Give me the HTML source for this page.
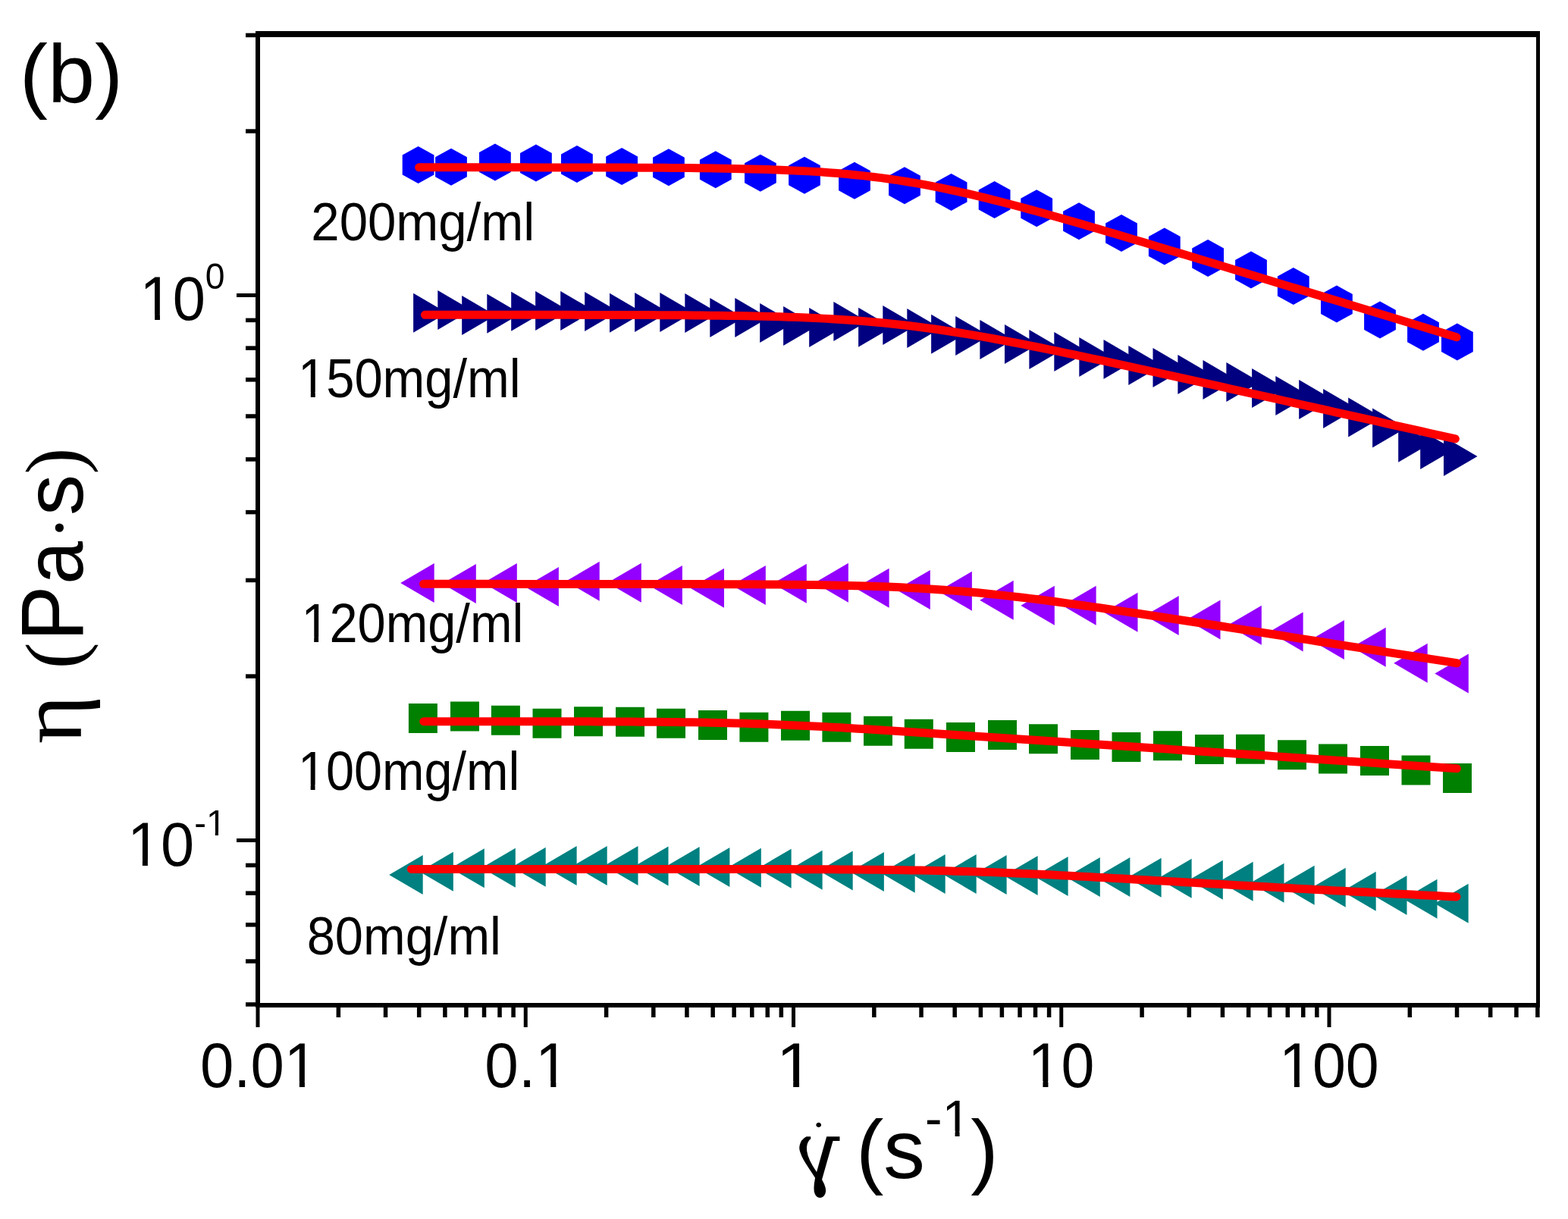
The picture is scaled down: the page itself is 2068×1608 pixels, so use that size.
<!DOCTYPE html>
<html><head><meta charset="utf-8"><title>Viscosity vs shear rate</title>
<style>html,body{margin:0;padding:0;background:#fff;}body{width:2068px;height:1608px;overflow:hidden;}svg{display:block;}</style>
</head><body>
<svg width="2068" height="1608" viewBox="0 0 2068 1608">
<rect width="2068" height="1608" fill="#fff"/>
<defs><clipPath id="k_xt0" clipPathUnits="userSpaceOnUse"><path clip-rule="evenodd" d="M-5000,-5000H9000V9000H-5000ZM376.94,1426.22H393.46V1437.00H376.94ZM400.53,1426.22H416.43V1437.00H400.53Z"/></clipPath><clipPath id="k_xt1" clipPathUnits="userSpaceOnUse"><path clip-rule="evenodd" d="M-5000,-5000H9000V9000H-5000ZM707.95,1426.22H724.47V1437.00H707.95ZM731.54,1426.22H747.44V1437.00H731.54Z"/></clipPath><clipPath id="k_xt2" clipPathUnits="userSpaceOnUse"><path clip-rule="evenodd" d="M-5000,-5000H9000V9000H-5000ZM1027.85,1426.22H1044.37V1437.00H1027.85ZM1051.44,1426.22H1067.34V1437.00H1051.44Z"/></clipPath><clipPath id="k_xt3" clipPathUnits="userSpaceOnUse"><path clip-rule="evenodd" d="M-5000,-5000H9000V9000H-5000ZM1358.85,1426.22H1375.38V1437.00H1358.85ZM1382.45,1426.22H1398.35V1437.00H1382.45Z"/></clipPath><clipPath id="k_xt4" clipPathUnits="userSpaceOnUse"><path clip-rule="evenodd" d="M-5000,-5000H9000V9000H-5000ZM1689.87,1426.22H1706.39V1437.00H1689.87ZM1713.46,1426.22H1729.36V1437.00H1713.46Z"/></clipPath><clipPath id="k_yt0" clipPathUnits="userSpaceOnUse"><path clip-rule="evenodd" d="M-5000,-5000H9000V9000H-5000ZM186.83,414.19H203.45V425.00H186.83ZM210.56,414.19H226.54V425.00H210.56Z"/></clipPath><clipPath id="k_yt1" clipPathUnits="userSpaceOnUse"><path clip-rule="evenodd" d="M-5000,-5000H9000V9000H-5000ZM170.83,1133.99H187.45V1144.80H170.83ZM194.56,1133.99H210.54V1144.80H194.56ZM273.86,1096.41H284.78V1104.80H273.86ZM289.02,1096.41H299.56V1104.80H289.02Z"/></clipPath><clipPath id="k_c150" clipPathUnits="userSpaceOnUse"><path clip-rule="evenodd" d="M-5000,-5000H9000V9000H-5000ZM394.99,518.01H409.67V528.00H394.99ZM415.82,518.01H429.95V528.00H415.82Z"/></clipPath><clipPath id="k_c120" clipPathUnits="userSpaceOnUse"><path clip-rule="evenodd" d="M-5000,-5000H9000V9000H-5000ZM399.09,841.01H413.78V851.00H399.09ZM419.92,841.01H434.06V851.00H419.92Z"/></clipPath><clipPath id="k_c100" clipPathUnits="userSpaceOnUse"><path clip-rule="evenodd" d="M-5000,-5000H9000V9000H-5000ZM394.19,1035.81H408.88V1045.80H394.19ZM415.02,1035.81H429.16V1045.80H415.02Z"/></clipPath><clipPath id="k_xs" clipPathUnits="userSpaceOnUse"><path clip-rule="evenodd" d="M-5000,-5000H9000V9000H-5000ZM1242.86,1493.19H1257.11V1503.00H1242.86ZM1263.03,1493.19H1276.76V1503.00H1263.03Z"/></clipPath></defs>
<g id="axes"><rect x="337" y="41" width="6" height="1288" fill="#000"/><rect x="2026" y="41" width="5" height="1288" fill="#000"/><rect x="337" y="41" width="1694" height="8" fill="#000"/><rect x="337" y="1323" width="1694" height="6" fill="#000"/><rect x="337.5" y="1324" width="5" height="31" fill="#000"/><rect x="690.75" y="1324" width="5" height="31" fill="#000"/><rect x="1044" y="1324" width="5" height="31" fill="#000"/><rect x="1397.25" y="1324" width="5" height="31" fill="#000"/><rect x="1750.5" y="1324" width="5" height="31" fill="#000"/><rect x="443.59" y="1324" width="5.5" height="18" fill="#000"/><rect x="505.79" y="1324" width="5.5" height="18" fill="#000"/><rect x="549.93" y="1324" width="5.5" height="18" fill="#000"/><rect x="584.16" y="1324" width="5.5" height="18" fill="#000"/><rect x="612.13" y="1324" width="5.5" height="18" fill="#000"/><rect x="635.78" y="1324" width="5.5" height="18" fill="#000"/><rect x="656.27" y="1324" width="5.5" height="18" fill="#000"/><rect x="674.34" y="1324" width="5.5" height="18" fill="#000"/><rect x="796.84" y="1324" width="5.5" height="18" fill="#000"/><rect x="859.04" y="1324" width="5.5" height="18" fill="#000"/><rect x="903.18" y="1324" width="5.5" height="18" fill="#000"/><rect x="937.41" y="1324" width="5.5" height="18" fill="#000"/><rect x="965.38" y="1324" width="5.5" height="18" fill="#000"/><rect x="989.03" y="1324" width="5.5" height="18" fill="#000"/><rect x="1009.52" y="1324" width="5.5" height="18" fill="#000"/><rect x="1027.59" y="1324" width="5.5" height="18" fill="#000"/><rect x="1150.09" y="1324" width="5.5" height="18" fill="#000"/><rect x="1212.29" y="1324" width="5.5" height="18" fill="#000"/><rect x="1256.43" y="1324" width="5.5" height="18" fill="#000"/><rect x="1290.66" y="1324" width="5.5" height="18" fill="#000"/><rect x="1318.63" y="1324" width="5.5" height="18" fill="#000"/><rect x="1342.28" y="1324" width="5.5" height="18" fill="#000"/><rect x="1362.77" y="1324" width="5.5" height="18" fill="#000"/><rect x="1380.84" y="1324" width="5.5" height="18" fill="#000"/><rect x="1503.34" y="1324" width="5.5" height="18" fill="#000"/><rect x="1565.54" y="1324" width="5.5" height="18" fill="#000"/><rect x="1609.68" y="1324" width="5.5" height="18" fill="#000"/><rect x="1643.91" y="1324" width="5.5" height="18" fill="#000"/><rect x="1671.88" y="1324" width="5.5" height="18" fill="#000"/><rect x="1695.53" y="1324" width="5.5" height="18" fill="#000"/><rect x="1716.02" y="1324" width="5.5" height="18" fill="#000"/><rect x="1734.09" y="1324" width="5.5" height="18" fill="#000"/><rect x="1856.59" y="1324" width="5.5" height="18" fill="#000"/><rect x="1918.79" y="1324" width="5.5" height="18" fill="#000"/><rect x="1962.93" y="1324" width="5.5" height="18" fill="#000"/><rect x="1997.16" y="1324" width="5.5" height="18" fill="#000"/><rect x="2025.13" y="1324" width="5.5" height="18" fill="#000"/><rect x="312" y="387" width="30" height="5" fill="#000"/><rect x="312" y="1106" width="30" height="5" fill="#000"/><rect x="324" y="1322.19" width="18" height="5.5" fill="#000"/><rect x="324" y="1265.26" width="18" height="5.5" fill="#000"/><rect x="324" y="1217.12" width="18" height="5.5" fill="#000"/><rect x="324" y="1175.43" width="18" height="5.5" fill="#000"/><rect x="324" y="1138.65" width="18" height="5.5" fill="#000"/><rect x="324" y="889.31" width="18" height="5.5" fill="#000"/><rect x="324" y="762.7" width="18" height="5.5" fill="#000"/><rect x="324" y="672.87" width="18" height="5.5" fill="#000"/><rect x="324" y="603.19" width="18" height="5.5" fill="#000"/><rect x="324" y="546.26" width="18" height="5.5" fill="#000"/><rect x="324" y="498.12" width="18" height="5.5" fill="#000"/><rect x="324" y="456.43" width="18" height="5.5" fill="#000"/><rect x="324" y="419.65" width="18" height="5.5" fill="#000"/><rect x="324" y="170.31" width="18" height="5.5" fill="#000"/><rect x="324" y="43.7" width="18" height="5.5" fill="#000"/></g>
<g id="s0"><polygon points="551.6,192.9 572.5,204.4 572.5,230.4 551.6,241.9 530.7,230.4 530.7,204.4" fill="#0000FF"/><polygon points="595,195.8 615.9,207.3 615.9,233.3 595,244.8 574.1,233.3 574.1,207.3" fill="#0000FF"/><polygon points="652.9,189.5 673.8,201 673.8,227 652.9,238.5 632,227 632,201" fill="#0000FF"/><polygon points="706.9,190.5 727.8,202 727.8,228 706.9,239.5 686,228 686,202" fill="#0000FF"/><polygon points="760.9,191.9 781.8,203.4 781.8,229.4 760.9,240.9 740,229.4 740,203.4" fill="#0000FF"/><polygon points="820.1,195 841,206.5 841,232.5 820.1,244 799.2,232.5 799.2,206.5" fill="#0000FF"/><polygon points="881.9,196.3 902.8,207.8 902.8,233.8 881.9,245.3 861,233.8 861,207.8" fill="#0000FF"/><polygon points="943.8,199.3 964.7,210.8 964.7,236.8 943.8,248.3 922.9,236.8 922.9,210.8" fill="#0000FF"/><polygon points="1002.9,203.8 1023.8,215.3 1023.8,241.3 1002.9,252.8 982,241.3 982,215.3" fill="#0000FF"/><polygon points="1061,206.8 1081.9,218.3 1081.9,244.3 1061,255.8 1040.1,244.3 1040.1,218.3" fill="#0000FF"/><polygon points="1127,213.8 1147.9,225.3 1147.9,251.3 1127,262.8 1106.1,251.3 1106.1,225.3" fill="#0000FF"/><polygon points="1193,220.3 1213.9,231.8 1213.9,257.8 1193,269.3 1172.1,257.8 1172.1,231.8" fill="#0000FF"/><polygon points="1254.6,228.9 1275.5,240.4 1275.5,266.4 1254.6,277.9 1233.7,266.4 1233.7,240.4" fill="#0000FF"/><polygon points="1311.6,238.9 1332.5,250.4 1332.5,276.4 1311.6,287.9 1290.7,276.4 1290.7,250.4" fill="#0000FF"/><polygon points="1367.2,250.2 1388.1,261.7 1388.1,287.7 1367.2,299.2 1346.3,287.7 1346.3,261.7" fill="#0000FF"/><polygon points="1423,267.2 1443.9,278.7 1443.9,304.7 1423,316.2 1402.1,304.7 1402.1,278.7" fill="#0000FF"/><polygon points="1479,282.9 1499.9,294.4 1499.9,320.4 1479,331.9 1458.1,320.4 1458.1,294.4" fill="#0000FF"/><polygon points="1535.8,300.5 1556.7,312 1556.7,338 1535.8,349.5 1514.9,338 1514.9,312" fill="#0000FF"/><polygon points="1593.1,315.9 1614,327.4 1614,353.4 1593.1,364.9 1572.2,353.4 1572.2,327.4" fill="#0000FF"/><polygon points="1650,331.4 1670.9,342.9 1670.9,368.9 1650,380.4 1629.1,368.9 1629.1,342.9" fill="#0000FF"/><polygon points="1705.8,352.9 1726.7,364.4 1726.7,390.4 1705.8,401.9 1684.9,390.4 1684.9,364.4" fill="#0000FF"/><polygon points="1762.9,376.5 1783.8,388 1783.8,414 1762.9,425.5 1742,414 1742,388" fill="#0000FF"/><polygon points="1820,397.5 1840.9,409 1840.9,435 1820,446.5 1799.1,435 1799.1,409" fill="#0000FF"/><polygon points="1877,413.8 1897.9,425.3 1897.9,451.3 1877,462.8 1856.1,451.3 1856.1,425.3" fill="#0000FF"/><polygon points="1921.9,426.4 1942.8,437.9 1942.8,463.9 1921.9,475.4 1901,463.9 1901,437.9" fill="#0000FF"/></g>
<g id="s1"><polygon points="545.1,386.8 589.6,412.8 545.1,438.8" fill="#000080"/><polygon points="577.3,382.9 621.8,408.9 577.3,434.9" fill="#000080"/><polygon points="609.2,390 653.7,416 609.2,442" fill="#000080"/><polygon points="642.3,387.8 686.8,413.8 642.3,439.8" fill="#000080"/><polygon points="674.2,384.8 718.7,410.8 674.2,436.8" fill="#000080"/><polygon points="706.1,383.9 750.6,409.9 706.1,435.9" fill="#000080"/><polygon points="739.2,383.9 783.7,409.9 739.2,435.9" fill="#000080"/><polygon points="771.1,384.9 815.6,410.9 771.1,436.9" fill="#000080"/><polygon points="804,386.8 848.5,412.8 804,438.8" fill="#000080"/><polygon points="837.1,385.9 881.6,411.9 837.1,437.9" fill="#000080"/><polygon points="870.3,385.9 914.8,411.9 870.3,437.9" fill="#000080"/><polygon points="903.3,386.9 947.8,412.9 903.3,438.9" fill="#000080"/><polygon points="936.3,393 980.8,419 936.3,445" fill="#000080"/><polygon points="969.3,393 1013.8,419 969.3,445" fill="#000080"/><polygon points="1002.2,400 1046.7,426 1002.2,452" fill="#000080"/><polygon points="1033.1,403.9 1077.6,429.9 1033.1,455.9" fill="#000080"/><polygon points="1067.2,406 1111.7,432 1067.2,458" fill="#000080"/><polygon points="1099.4,398 1143.9,424 1099.4,450" fill="#000080"/><polygon points="1132.1,405.8 1176.6,431.8 1132.1,457.8" fill="#000080"/><polygon points="1164.3,403 1208.8,429 1164.3,455" fill="#000080"/><polygon points="1196.3,406.9 1240.8,432.9 1196.3,458.9" fill="#000080"/><polygon points="1228.1,414.8 1272.6,440.8 1228.1,466.8" fill="#000080"/><polygon points="1260.2,417 1304.7,443 1260.2,469" fill="#000080"/><polygon points="1292.4,422 1336.9,448 1292.4,474" fill="#000080"/><polygon points="1325,428.1 1369.5,454.1 1325,480.1" fill="#000080"/><polygon points="1357.4,435 1401.9,461 1357.4,487" fill="#000080"/><polygon points="1390.3,437.9 1434.8,463.9 1390.3,489.9" fill="#000080"/><polygon points="1423.3,444.9 1467.8,470.9 1423.3,496.9" fill="#000080"/><polygon points="1455.5,448 1500,474 1455.5,500" fill="#000080"/><polygon points="1488.3,456 1532.8,482 1488.3,508" fill="#000080"/><polygon points="1520.5,459 1565,485 1520.5,511" fill="#000080"/><polygon points="1553.4,468 1597.9,494 1553.4,520" fill="#000080"/><polygon points="1586.5,474.9 1631,500.9 1586.5,526.9" fill="#000080"/><polygon points="1617.4,478 1661.9,504 1617.4,530" fill="#000080"/><polygon points="1651.1,485.9 1695.6,511.9 1651.1,537.9" fill="#000080"/><polygon points="1682.3,495.9 1726.8,521.9 1682.3,547.9" fill="#000080"/><polygon points="1713.2,501 1757.7,527 1713.2,553" fill="#000080"/><polygon points="1745.1,512.9 1789.6,538.9 1745.1,564.9" fill="#000080"/><polygon points="1778.2,524.4 1822.7,550.4 1778.2,576.4" fill="#000080"/><polygon points="1810.1,538.5 1854.6,564.5 1810.1,590.5" fill="#000080"/><polygon points="1844.2,557.7 1888.7,583.7 1844.2,609.7" fill="#000080"/><polygon points="1873.2,567 1917.7,593 1873.2,619" fill="#000080"/><polygon points="1904,576 1948.5,602 1904,628" fill="#000080"/></g>
<g id="s2"><polygon points="572.7,743 528.2,769 572.7,795" fill="#9400FF"/><polygon points="627.8,743.9 583.3,769.9 627.8,795.9" fill="#9400FF"/><polygon points="681.8,743 637.3,769 681.8,795" fill="#9400FF"/><polygon points="736.9,747.9 692.4,773.9 736.9,799.9" fill="#9400FF"/><polygon points="790.7,740.8 746.2,766.8 790.7,792.8" fill="#9400FF"/><polygon points="845.8,742.7 801.3,768.7 845.8,794.7" fill="#9400FF"/><polygon points="899.9,745.9 855.4,771.9 899.9,797.9" fill="#9400FF"/><polygon points="955,749.7 910.5,775.7 955,801.7" fill="#9400FF"/><polygon points="1009.8,745.9 965.3,771.9 1009.8,797.9" fill="#9400FF"/><polygon points="1063.8,743.8 1019.3,769.8 1063.8,795.8" fill="#9400FF"/><polygon points="1118.9,742.8 1074.4,768.8 1118.9,794.8" fill="#9400FF"/><polygon points="1172.6,749.7 1128.1,775.7 1172.6,801.7" fill="#9400FF"/><polygon points="1226.8,751.9 1182.3,777.9 1226.8,803.9" fill="#9400FF"/><polygon points="1281.9,753.8 1237.4,779.8 1281.9,805.8" fill="#9400FF"/><polygon points="1336.7,765.8 1292.2,791.8 1336.7,817.8" fill="#9400FF"/><polygon points="1390.8,772.7 1346.3,798.7 1390.8,824.7" fill="#9400FF"/><polygon points="1445.6,772.7 1401.1,798.7 1445.6,824.7" fill="#9400FF"/><polygon points="1500.5,781.8 1456,807.8 1500.5,833.8" fill="#9400FF"/><polygon points="1554.7,786 1510.2,812 1554.7,838" fill="#9400FF"/><polygon points="1609.5,791.6 1565,817.6 1609.5,843.6" fill="#9400FF"/><polygon points="1663.8,798.8 1619.3,824.8 1663.8,850.8" fill="#9400FF"/><polygon points="1718.6,807.6 1674.1,833.6 1718.6,859.6" fill="#9400FF"/><polygon points="1772.9,817.9 1728.4,843.9 1772.9,869.9" fill="#9400FF"/><polygon points="1827.7,827.8 1783.2,853.8 1827.7,879.8" fill="#9400FF"/><polygon points="1882.7,848.7 1838.2,874.7 1882.7,900.7" fill="#9400FF"/><polygon points="1936.8,862.6 1892.3,888.6 1936.8,914.6" fill="#9400FF"/></g>
<g id="s3"><polygon points="538.9,927.9 576.9,927.9 576.9,966.9 538.9,966.9" fill="#008000"/><polygon points="594,925.5 632,925.5 632,964.5 594,964.5" fill="#008000"/><polygon points="647.9,930.8 685.9,930.8 685.9,969.8 647.9,969.8" fill="#008000"/><polygon points="702.5,934.8 740.5,934.8 740.5,973.8 702.5,973.8" fill="#008000"/><polygon points="757,932.2 795,932.2 795,971.2 757,971.2" fill="#008000"/><polygon points="812,932.8 850,932.8 850,971.8 812,971.8" fill="#008000"/><polygon points="866,934.8 904,934.8 904,973.8 866,973.8" fill="#008000"/><polygon points="921,936.9 959,936.9 959,975.9 921,975.9" fill="#008000"/><polygon points="975.4,939.8 1013.4,939.8 1013.4,978.8 975.4,978.8" fill="#008000"/><polygon points="1030,937.8 1068,937.8 1068,976.8 1030,976.8" fill="#008000"/><polygon points="1084.4,939.8 1122.4,939.8 1122.4,978.8 1084.4,978.8" fill="#008000"/><polygon points="1139,944.8 1177,944.8 1177,983.8 1139,983.8" fill="#008000"/><polygon points="1192.8,948.8 1230.8,948.8 1230.8,987.8 1192.8,987.8" fill="#008000"/><polygon points="1248,952.9 1286,952.9 1286,991.9 1248,991.9" fill="#008000"/><polygon points="1303,949.9 1341,949.9 1341,988.9 1303,988.9" fill="#008000"/><polygon points="1357,955.3 1395,955.3 1395,994.3 1357,994.3" fill="#008000"/><polygon points="1412,962.9 1450,962.9 1450,1001.9 1412,1001.9" fill="#008000"/><polygon points="1466.5,965.9 1504.5,965.9 1504.5,1004.9 1466.5,1004.9" fill="#008000"/><polygon points="1521,964.3 1559,964.3 1559,1003.3 1521,1003.3" fill="#008000"/><polygon points="1576,968.9 1614,968.9 1614,1007.9 1576,1007.9" fill="#008000"/><polygon points="1630,968.8 1668,968.8 1668,1007.8 1630,1007.8" fill="#008000"/><polygon points="1685,976.3 1723,976.3 1723,1015.3 1685,1015.3" fill="#008000"/><polygon points="1739,981.4 1777,981.4 1777,1020.4 1739,1020.4" fill="#008000"/><polygon points="1794,983.9 1832,983.9 1832,1022.9 1794,1022.9" fill="#008000"/><polygon points="1848.5,996.4 1886.5,996.4 1886.5,1035.4 1848.5,1035.4" fill="#008000"/><polygon points="1903,1006.9 1941,1006.9 1941,1045.9 1903,1045.9" fill="#008000"/></g>
<g id="s4"><polygon points="557.7,1127.9 513.2,1153.9 557.7,1179.9" fill="#008080"/><polygon points="597.8,1123.8 553.3,1149.8 597.8,1175.8" fill="#008080"/><polygon points="638.8,1119.3 594.3,1145.3 638.8,1171.3" fill="#008080"/><polygon points="679.8,1118.8 635.3,1144.8 679.8,1170.8" fill="#008080"/><polygon points="719.7,1117.8 675.2,1143.8 719.7,1169.8" fill="#008080"/><polygon points="760.6,1115.9 716.1,1141.9 760.6,1167.9" fill="#008080"/><polygon points="800.7,1115.9 756.2,1141.9 800.7,1167.9" fill="#008080"/><polygon points="841.5,1115.9 797,1141.9 841.5,1167.9" fill="#008080"/><polygon points="881.5,1116.4 837,1142.4 881.5,1168.4" fill="#008080"/><polygon points="922.6,1116.9 878.1,1142.9 922.6,1168.9" fill="#008080"/><polygon points="962.4,1118 917.9,1144 962.4,1170" fill="#008080"/><polygon points="1003.8,1118.8 959.3,1144.8 1003.8,1170.8" fill="#008080"/><polygon points="1043.6,1119.7 999.1,1145.7 1043.6,1171.7" fill="#008080"/><polygon points="1084.6,1121.7 1040.1,1147.7 1084.6,1173.7" fill="#008080"/><polygon points="1124.7,1122.6 1080.2,1148.6 1124.7,1174.6" fill="#008080"/><polygon points="1165.9,1124 1121.4,1150 1165.9,1176" fill="#008080"/><polygon points="1206.7,1125.7 1162.2,1151.7 1206.7,1177.7" fill="#008080"/><polygon points="1246.7,1127 1202.2,1153 1246.7,1179" fill="#008080"/><polygon points="1287.7,1127 1243.2,1153 1287.7,1179" fill="#008080"/><polygon points="1327.6,1127.9 1283.1,1153.9 1327.6,1179.9" fill="#008080"/><polygon points="1368.6,1128.9 1324.1,1154.9 1368.6,1180.9" fill="#008080"/><polygon points="1408.6,1129.9 1364.1,1155.9 1408.6,1181.9" fill="#008080"/><polygon points="1450.8,1130.9 1406.3,1156.9 1450.8,1182.9" fill="#008080"/><polygon points="1490.4,1130.9 1445.9,1156.9 1490.4,1182.9" fill="#008080"/><polygon points="1531.6,1131.8 1487.1,1157.8 1531.6,1183.8" fill="#008080"/><polygon points="1571.6,1132.7 1527.1,1158.7 1571.6,1184.7" fill="#008080"/><polygon points="1612.8,1134.8 1568.3,1160.8 1612.8,1186.8" fill="#008080"/><polygon points="1652.6,1136.8 1608.1,1162.8 1652.6,1188.8" fill="#008080"/><polygon points="1693.5,1138.7 1649,1164.7 1693.5,1190.7" fill="#008080"/><polygon points="1733.6,1141.8 1689.1,1167.8 1733.6,1193.8" fill="#008080"/><polygon points="1774.7,1144.7 1730.2,1170.7 1774.7,1196.7" fill="#008080"/><polygon points="1814.7,1149.8 1770.2,1175.8 1814.7,1201.8" fill="#008080"/><polygon points="1855.5,1155 1811,1181 1855.5,1207" fill="#008080"/><polygon points="1895.5,1159.8 1851,1185.8 1895.5,1211.8" fill="#008080"/><polygon points="1936.6,1165.8 1892.1,1191.8 1936.6,1217.8" fill="#008080"/></g>
<g id="fits"><path d="M552.6,220.83 L564.1,220.83 L575.6,220.83 L587.1,220.83 L598.6,220.84 L610.1,220.84 L621.59,220.84 L633.09,220.84 L644.59,220.85 L656.09,220.85 L667.59,220.86 L679.09,220.86 L690.59,220.87 L702.09,220.88 L713.59,220.89 L725.09,220.9 L736.59,220.91 L748.09,220.93 L759.58,220.94 L771.08,220.96 L782.58,220.99 L794.08,221.01 L805.58,221.04 L817.08,221.07 L828.58,221.11 L840.08,221.16 L851.58,221.21 L863.08,221.27 L874.58,221.34 L886.08,221.42 L897.57,221.51 L909.07,221.61 L920.57,221.73 L932.07,221.87 L943.57,222.03 L955.07,222.2 L966.57,222.41 L978.07,222.65 L989.57,222.91 L1001.07,223.22 L1012.57,223.57 L1024.07,223.96 L1035.56,224.41 L1047.06,224.92 L1058.56,225.49 L1070.06,226.13 L1081.56,226.85 L1093.06,227.66 L1104.56,228.55 L1116.06,229.55 L1127.56,230.65 L1139.06,231.86 L1150.56,233.19 L1162.06,234.63 L1173.55,236.2 L1185.05,237.89 L1196.55,239.7 L1208.05,241.64 L1219.55,243.7 L1231.05,245.88 L1242.55,248.18 L1254.05,250.58 L1265.55,253.09 L1277.05,255.7 L1288.55,258.4 L1300.05,261.18 L1311.54,264.04 L1323.04,266.97 L1334.54,269.97 L1346.04,273.02 L1357.54,276.13 L1369.04,279.28 L1380.54,282.48 L1392.04,285.71 L1403.54,288.97 L1415.04,292.27 L1426.54,295.59 L1438.04,298.93 L1449.53,302.29 L1461.03,305.67 L1472.53,309.07 L1484.03,312.48 L1495.53,315.9 L1507.03,319.33 L1518.53,322.77 L1530.03,326.21 L1541.53,329.67 L1553.03,333.13 L1564.53,336.59 L1576.03,340.06 L1587.52,343.53 L1599.02,347.01 L1610.52,350.49 L1622.02,353.97 L1633.52,357.45 L1645.02,360.94 L1656.52,364.43 L1668.02,367.92 L1679.52,371.41 L1691.02,374.9 L1702.52,378.39 L1714.02,381.88 L1725.51,385.38 L1737.01,388.87 L1748.51,392.37 L1760.01,395.86 L1771.51,399.36 L1783.01,402.85 L1794.51,406.35 L1806.01,409.85 L1817.51,413.34 L1829.01,416.84 L1840.51,420.34 L1852.01,423.83 L1863.5,427.33 L1875,430.83 L1886.5,434.33 L1898,437.82 L1909.5,441.32 L1921,444.82" fill="none" stroke="#FF0000" stroke-width="11" stroke-linecap="round" stroke-linejoin="round"/><path d="M560.4,415.28 L571.82,415.28 L583.24,415.28 L594.66,415.28 L606.08,415.28 L617.5,415.29 L628.92,415.29 L640.34,415.29 L651.76,415.3 L663.18,415.3 L674.6,415.31 L686.02,415.31 L697.44,415.32 L708.86,415.33 L720.28,415.34 L731.7,415.35 L743.12,415.36 L754.54,415.37 L765.96,415.38 L777.38,415.4 L788.8,415.42 L800.22,415.44 L811.64,415.47 L823.06,415.5 L834.48,415.53 L845.9,415.57 L857.32,415.62 L868.74,415.67 L880.16,415.73 L891.58,415.8 L903.01,415.87 L914.43,415.96 L925.85,416.06 L937.27,416.17 L948.69,416.3 L960.11,416.45 L971.53,416.62 L982.95,416.81 L994.37,417.03 L1005.79,417.27 L1017.21,417.55 L1028.63,417.87 L1040.05,418.22 L1051.47,418.62 L1062.89,419.07 L1074.31,419.57 L1085.73,420.12 L1097.15,420.74 L1108.57,421.43 L1119.99,422.18 L1131.41,423.02 L1142.83,423.93 L1154.25,424.92 L1165.67,426 L1177.09,427.16 L1188.51,428.41 L1199.93,429.75 L1211.35,431.17 L1222.77,432.68 L1234.19,434.27 L1245.61,435.95 L1257.03,437.7 L1268.45,439.52 L1279.87,441.42 L1291.29,443.38 L1302.71,445.39 L1314.13,447.47 L1325.55,449.59 L1336.97,451.76 L1348.39,453.97 L1359.81,456.23 L1371.23,458.51 L1382.65,460.83 L1394.07,463.17 L1405.49,465.54 L1416.91,467.93 L1428.33,470.33 L1439.75,472.76 L1451.17,475.2 L1462.59,477.65 L1474.01,480.12 L1485.43,482.59 L1496.85,485.08 L1508.27,487.57 L1519.69,490.07 L1531.11,492.58 L1542.53,495.09 L1553.95,497.6 L1565.37,500.12 L1576.79,502.65 L1588.22,505.17 L1599.64,507.7 L1611.06,510.23 L1622.48,512.77 L1633.9,515.3 L1645.32,517.84 L1656.74,520.38 L1668.16,522.92 L1679.58,525.46 L1691,528 L1702.42,530.54 L1713.84,533.08 L1725.26,535.63 L1736.68,538.17 L1748.1,540.72 L1759.52,543.26 L1770.94,545.81 L1782.36,548.35 L1793.78,550.9 L1805.2,553.44 L1816.62,555.99 L1828.04,558.54 L1839.46,561.08 L1850.88,563.63 L1862.3,566.18 L1873.72,568.73 L1885.14,571.27 L1896.56,573.82 L1907.98,576.37 L1919.4,578.91" fill="none" stroke="#FF0000" stroke-width="11" stroke-linecap="round" stroke-linejoin="round"/><path d="M558.5,770.37 L569.95,770.37 L581.41,770.37 L592.86,770.37 L604.32,770.37 L615.77,770.37 L627.22,770.37 L638.68,770.37 L650.13,770.37 L661.58,770.37 L673.04,770.38 L684.49,770.38 L695.95,770.38 L707.4,770.38 L718.85,770.38 L730.31,770.38 L741.76,770.39 L753.21,770.39 L764.67,770.39 L776.12,770.4 L787.58,770.4 L799.03,770.41 L810.48,770.41 L821.94,770.42 L833.39,770.43 L844.84,770.44 L856.3,770.45 L867.75,770.46 L879.21,770.48 L890.66,770.5 L902.11,770.52 L913.57,770.54 L925.02,770.57 L936.47,770.6 L947.93,770.63 L959.38,770.67 L970.84,770.72 L982.29,770.77 L993.74,770.83 L1005.2,770.9 L1016.65,770.98 L1028.11,771.07 L1039.56,771.18 L1051.01,771.3 L1062.47,771.43 L1073.92,771.59 L1085.37,771.77 L1096.83,771.97 L1108.28,772.2 L1119.74,772.46 L1131.19,772.75 L1142.64,773.08 L1154.1,773.45 L1165.55,773.86 L1177,774.32 L1188.46,774.83 L1199.91,775.39 L1211.37,776.02 L1222.82,776.7 L1234.27,777.44 L1245.73,778.24 L1257.18,779.11 L1268.63,780.04 L1280.09,781.04 L1291.54,782.1 L1303,783.22 L1314.45,784.4 L1325.9,785.63 L1337.36,786.92 L1348.81,788.26 L1360.26,789.65 L1371.72,791.08 L1383.17,792.55 L1394.63,794.06 L1406.08,795.6 L1417.53,797.17 L1428.99,798.77 L1440.44,800.39 L1451.89,802.03 L1463.35,803.7 L1474.8,805.38 L1486.26,807.07 L1497.71,808.78 L1509.16,810.5 L1520.62,812.23 L1532.07,813.96 L1543.53,815.71 L1554.98,817.46 L1566.43,819.22 L1577.89,820.98 L1589.34,822.75 L1600.79,824.53 L1612.25,826.3 L1623.7,828.08 L1635.16,829.86 L1646.61,831.64 L1658.06,833.43 L1669.52,835.22 L1680.97,837.01 L1692.42,838.8 L1703.88,840.59 L1715.33,842.38 L1726.79,844.17 L1738.24,845.97 L1749.69,847.76 L1761.15,849.56 L1772.6,851.35 L1784.05,853.15 L1795.51,854.94 L1806.96,856.74 L1818.42,858.54 L1829.87,860.33 L1841.32,862.13 L1852.78,863.93 L1864.23,865.72 L1875.68,867.52 L1887.14,869.32 L1898.59,871.12 L1910.05,872.92 L1921.5,874.71" fill="none" stroke="#FF0000" stroke-width="11" stroke-linecap="round" stroke-linejoin="round"/><path d="M558.8,951.69 L570.25,951.69 L581.7,951.69 L593.15,951.69 L604.6,951.69 L616.05,951.7 L627.5,951.7 L638.95,951.7 L650.4,951.71 L661.85,951.71 L673.3,951.72 L684.75,951.73 L696.21,951.73 L707.66,951.74 L719.11,951.76 L730.56,951.77 L742.01,951.79 L753.46,951.8 L764.91,951.83 L776.36,951.85 L787.81,951.88 L799.26,951.92 L810.71,951.96 L822.16,952.01 L833.61,952.07 L845.06,952.14 L856.51,952.22 L867.96,952.31 L879.41,952.41 L890.86,952.54 L902.31,952.67 L913.76,952.83 L925.21,953.02 L936.66,953.22 L948.11,953.46 L959.56,953.72 L971.02,954.01 L982.47,954.33 L993.92,954.68 L1005.37,955.06 L1016.82,955.48 L1028.27,955.93 L1039.72,956.41 L1051.17,956.92 L1062.62,957.45 L1074.07,958.02 L1085.52,958.61 L1096.97,959.22 L1108.42,959.85 L1119.87,960.5 L1131.32,961.17 L1142.77,961.85 L1154.22,962.54 L1165.67,963.25 L1177.12,963.96 L1188.57,964.69 L1200.02,965.42 L1211.47,966.15 L1222.92,966.9 L1234.37,967.64 L1245.83,968.4 L1257.28,969.15 L1268.73,969.91 L1280.18,970.67 L1291.63,971.43 L1303.08,972.19 L1314.53,972.96 L1325.98,973.73 L1337.43,974.49 L1348.88,975.26 L1360.33,976.03 L1371.78,976.8 L1383.23,977.57 L1394.68,978.34 L1406.13,979.11 L1417.58,979.88 L1429.03,980.66 L1440.48,981.43 L1451.93,982.2 L1463.38,982.97 L1474.83,983.74 L1486.28,984.52 L1497.73,985.29 L1509.18,986.06 L1520.64,986.83 L1532.09,987.6 L1543.54,988.38 L1554.99,989.15 L1566.44,989.92 L1577.89,990.69 L1589.34,991.46 L1600.79,992.23 L1612.24,993 L1623.69,993.78 L1635.14,994.55 L1646.59,995.32 L1658.04,996.09 L1669.49,996.86 L1680.94,997.63 L1692.39,998.4 L1703.84,999.17 L1715.29,999.94 L1726.74,1000.71 L1738.19,1001.48 L1749.64,1002.26 L1761.09,1003.03 L1772.54,1003.8 L1783.99,1004.57 L1795.45,1005.34 L1806.9,1006.11 L1818.35,1006.88 L1829.8,1007.64 L1841.25,1008.41 L1852.7,1009.18 L1864.15,1009.95 L1875.6,1010.72 L1887.05,1011.49 L1898.5,1012.26 L1909.95,1013.03 L1921.4,1013.8" fill="none" stroke="#FF0000" stroke-width="11" stroke-linecap="round" stroke-linejoin="round"/><path d="M542.4,1146.41 L553.98,1146.41 L565.57,1146.41 L577.15,1146.41 L588.74,1146.41 L600.32,1146.41 L611.91,1146.41 L623.49,1146.41 L635.08,1146.41 L646.66,1146.41 L658.25,1146.41 L669.83,1146.41 L681.42,1146.41 L693,1146.41 L704.59,1146.41 L716.17,1146.41 L727.76,1146.41 L739.34,1146.41 L750.93,1146.42 L762.51,1146.42 L774.1,1146.42 L785.68,1146.42 L797.27,1146.42 L808.85,1146.42 L820.44,1146.42 L832.02,1146.43 L843.61,1146.43 L855.19,1146.43 L866.78,1146.43 L878.36,1146.44 L889.95,1146.44 L901.53,1146.45 L913.12,1146.45 L924.7,1146.46 L936.29,1146.47 L947.87,1146.48 L959.46,1146.49 L971.04,1146.5 L982.63,1146.51 L994.21,1146.53 L1005.79,1146.55 L1017.38,1146.57 L1028.96,1146.59 L1040.55,1146.62 L1052.13,1146.66 L1063.72,1146.69 L1075.3,1146.74 L1086.89,1146.79 L1098.47,1146.85 L1110.06,1146.91 L1121.64,1146.99 L1133.23,1147.07 L1144.81,1147.17 L1156.4,1147.28 L1167.98,1147.41 L1179.57,1147.55 L1191.15,1147.71 L1202.74,1147.89 L1214.32,1148.09 L1225.91,1148.32 L1237.49,1148.56 L1249.08,1148.84 L1260.66,1149.14 L1272.25,1149.46 L1283.83,1149.81 L1295.42,1150.19 L1307,1150.6 L1318.59,1151.03 L1330.17,1151.49 L1341.76,1151.97 L1353.34,1152.47 L1364.93,1153 L1376.51,1153.55 L1388.1,1154.11 L1399.68,1154.69 L1411.27,1155.29 L1422.85,1155.9 L1434.44,1156.52 L1446.02,1157.15 L1457.61,1157.79 L1469.19,1158.43 L1480.77,1159.08 L1492.36,1159.74 L1503.94,1160.39 L1515.53,1161.05 L1527.11,1161.72 L1538.7,1162.38 L1550.28,1163.04 L1561.87,1163.71 L1573.45,1164.37 L1585.04,1165.03 L1596.62,1165.69 L1608.21,1166.35 L1619.79,1167 L1631.38,1167.66 L1642.96,1168.31 L1654.55,1168.96 L1666.13,1169.6 L1677.72,1170.25 L1689.3,1170.89 L1700.89,1171.53 L1712.47,1172.16 L1724.06,1172.79 L1735.64,1173.42 L1747.23,1174.04 L1758.81,1174.66 L1770.4,1175.28 L1781.98,1175.89 L1793.57,1176.51 L1805.15,1177.11 L1816.74,1177.72 L1828.32,1178.32 L1839.91,1178.91 L1851.49,1179.51 L1863.08,1180.1 L1874.66,1180.69 L1886.25,1181.27 L1897.83,1181.85 L1909.42,1182.43 L1921,1183" fill="none" stroke="#FF0000" stroke-width="11" stroke-linecap="round" stroke-linejoin="round"/></g>
<g id="texts"><g id="lb_b" transform="matrix(1.03420,0.00000,0.00000,1.01101,-1.14044,-2.68024)"><text x="26" y="136" font-family="Liberation Sans, Arial, Helvetica, sans-serif" font-size="108" text-anchor="start">(b)</text></g><g id="xt0" transform="matrix(0.99664,0.00000,0.00000,1.03549,2.71580,-50.94452)"><text x="340" y="1434" font-family="Liberation Sans, Arial, Helvetica, sans-serif" font-size="80" text-anchor="middle" clip-path="url(#k_xt0)">0.01</text></g><g id="xt1" transform="matrix(1.00079,0.00000,0.00000,1.03549,1.21460,-50.94452)"><text x="693.25" y="1434" font-family="Liberation Sans, Arial, Helvetica, sans-serif" font-size="80" text-anchor="middle" clip-path="url(#k_xt1)">0.1</text></g><g id="xt2" transform="matrix(1.11418,0.00000,0.00000,1.04069,-117.42355,-58.36453)"><text x="1046.5" y="1434" font-family="Liberation Sans, Arial, Helvetica, sans-serif" font-size="80" text-anchor="middle" clip-path="url(#k_xt2)">1</text></g><g id="xt3" transform="matrix(0.98592,0.00000,0.00000,1.03549,19.43801,-50.94452)"><text x="1399.75" y="1434" font-family="Liberation Sans, Arial, Helvetica, sans-serif" font-size="80" text-anchor="middle" clip-path="url(#k_xt3)">10</text></g><g id="xt4" transform="matrix(0.98666,0.00000,0.00000,1.03549,23.28958,-50.94452)"><text x="1753" y="1434" font-family="Liberation Sans, Arial, Helvetica, sans-serif" font-size="80" text-anchor="middle" clip-path="url(#k_xt4)">100</text></g><g id="yt0" transform="matrix(0.96332,0.00000,0.00000,1.01920,8.12382,-8.09049)"><text x="183.2" y="422" font-family="Liberation Sans, Arial, Helvetica, sans-serif" font-size="80.5" text-anchor="start" clip-path="url(#k_yt0)">10<tspan dy="-40.5" font-size="48">0</tspan></text></g><g id="yt1" transform="matrix(0.98540,0.00000,0.00000,1.00414,3.16219,-4.68381)"><text x="167.2" y="1141.8" font-family="Liberation Sans, Arial, Helvetica, sans-serif" font-size="80.5" text-anchor="start" clip-path="url(#k_yt1)">10<tspan dy="-40" font-size="48">-1</tspan></text></g><g id="c200" transform="matrix(0.96637,0.00000,0.00000,1.01256,11.98799,-4.11153)"><text x="412.2" y="316.8" font-family="Liberation Sans, Arial, Helvetica, sans-serif" font-size="69.5" text-anchor="start">200mg/ml</text></g><g id="c150" transform="matrix(0.96259,0.00000,0.00000,1.03014,15.47789,-16.39485)"><text x="392.2" y="525" font-family="Liberation Sans, Arial, Helvetica, sans-serif" font-size="69.5" text-anchor="start" clip-path="url(#k_c150)">150mg/ml</text></g><g id="c120" transform="matrix(0.95984,0.00000,0.00000,1.03095,17.03389,-26.79055)"><text x="396.3" y="848" font-family="Liberation Sans, Arial, Helvetica, sans-serif" font-size="69.5" text-anchor="start" clip-path="url(#k_c120)">120mg/ml</text></g><g id="c100" transform="matrix(0.95849,0.00000,0.00000,1.03095,17.74187,-32.72077)"><text x="391.4" y="1042.8" font-family="Liberation Sans, Arial, Helvetica, sans-serif" font-size="69.5" text-anchor="start" clip-path="url(#k_c100)">100mg/ml</text></g><g id="c80" transform="matrix(0.96145,0.00000,0.00000,1.01777,15.71798,-22.67642)"><text x="404.6" y="1259" font-family="Liberation Sans, Arial, Helvetica, sans-serif" font-size="69.5" text-anchor="start">80mg/ml</text></g><g id="xg" transform="matrix(0.96364,0.00000,0.00000,1.02310,39.29091,-32.84559)"><text x="1080" y="1554" font-family="DejaVu Serif, serif" font-size="108" text-anchor="middle" transform="matrix(-1,0,0,1,2160,0)">γ</text></g><g id="xdot" transform="matrix(1.06521,0.00000,0.00000,1.00000,-70.33008,-10.00000)"><text x="1079.5" y="1530" font-family="Liberation Serif, Times New Roman, serif" font-size="60" text-anchor="middle">˙</text></g><g id="xs" transform="matrix(1.01201,0.00000,0.00000,1.01668,-12.63056,-26.25585)"><text x="1128" y="1554" font-family="Liberation Sans, Arial, Helvetica, sans-serif" font-size="108" text-anchor="start" clip-path="url(#k_xs)">(s<tspan dy="-54" font-size="67">-1</tspan><tspan dy="54" font-size="108">)</tspan></text></g><g id="yeta" transform="matrix(1.09482,0.00000,0.00000,1.14398,-11.40609,-139.76004)"><text x="108" y="980" font-family="Liberation Serif, Times New Roman, serif" font-size="108" text-anchor="start" transform="rotate(-90 108 980)">η</text></g><g id="ypl" transform="matrix(0.98602,0.00000,0.00000,0.96716,0.91839,31.26064)"><text x="108" y="880" font-family="Liberation Serif, Times New Roman, serif" font-size="108" text-anchor="start" transform="rotate(-90 108 880)">(</text></g><g id="yP" transform="matrix(1.07466,0.00000,0.00000,1.01813,-6.55683,-9.54820)"><text x="108" y="840" font-family="Liberation Sans, Arial, Helvetica, sans-serif" font-size="108" text-anchor="start" transform="rotate(-90 108 840)">P</text></g><g id="ya" transform="matrix(1.00863,0.00000,0.00000,0.94607,0.06599,42.28928)"><text x="108" y="770" font-family="Liberation Sans, Arial, Helvetica, sans-serif" font-size="108" text-anchor="start" transform="rotate(-90 108 770)">a</text></g><g id="ydot" transform="matrix(0.95433,0.00000,0.00000,0.96758,7.36582,15.68803)"><text x="108" y="720" font-family="Liberation Serif, Times New Roman, serif" font-size="100" text-anchor="start" transform="rotate(-90 108 720)">·</text></g><g id="ys" transform="matrix(1.00863,0.00000,0.00000,1.00136,0.06599,-0.89415)"><text x="108" y="680" font-family="Liberation Sans, Arial, Helvetica, sans-serif" font-size="108" text-anchor="start" transform="rotate(-90 108 680)">s</text></g><g id="ypr" transform="matrix(0.98601,0.00000,0.00000,0.96725,0.88272,20.88463)"><text x="108" y="625" font-family="Liberation Serif, Times New Roman, serif" font-size="108" text-anchor="start" transform="rotate(-90 108 625)">)</text></g></g>
</svg>
</body></html>
